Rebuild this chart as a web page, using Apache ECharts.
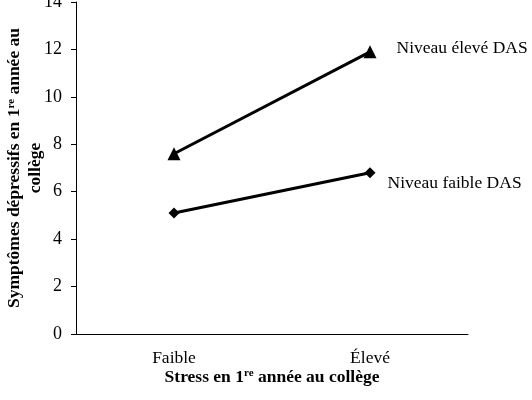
<!DOCTYPE html>
<html>
<head>
<meta charset="utf-8">
<script src="https://cdn.jsdelivr.net/npm/echarts@6/dist/echarts.min.js"></script>
<style>
  html, body { margin: 0; padding: 0; background: #fff; }
  #main { width: 532px; height: 400px; }
</style>
</head>
<body>
<div id="main"></div>
<script>
var categories = ['Faible', 'Élevé'];
var highDas = [7.6, 11.9];
var lowDas = [5.1, 6.8];
var seriesNames = ['Niveau élevé DAS', 'Niveau faible DAS'];

var chartDom = document.getElementById('main');
var myChart = echarts.init(chartDom);
var font = '"Liberation Serif", "Times New Roman", serif';

var supRich = {
  b: { fontFamily: font, fontWeight: 'bold', fontSize: 17.5, color: '#000' },
  s: { fontFamily: font, fontWeight: 'bold', fontSize: 11, color: '#000', padding: [0, 0, 7, 0] }
};

var option = {
  animation: false,
  textStyle: { fontFamily: font, color: '#000' },
  grid: { left: 76, right: 64, top: 2, bottom: 66, outerBoundsMode: 'none', containLabel: false },
  xAxis: {
    type: 'category',
    data: categories,
    boundaryGap: true,
    axisLine: { lineStyle: { color: '#000', width: 1 } },
    axisTick: { length: 4, lineStyle: { color: '#000' } },
    axisLabel: { fontFamily: font, fontSize: 17.5, color: '#000', margin: 15 },
    name: '{b|Stress en 1}{s|re}{b| année au collège}',
    nameLocation: 'middle',
    nameGap: 34,
    nameMoveOverlap: false,
    nameTextStyle: { rich: supRich }
  },
  yAxis: {
    type: 'value',
    min: 0,
    max: 14,
    interval: 2,
    splitLine: { show: false },
    axisLine: { show: true, lineStyle: { color: '#000', width: 1 } },
    axisTick: { show: true, length: 5, lineStyle: { color: '#000' } },
    axisLabel: { fontFamily: font, fontSize: 18, color: '#000', margin: 14 },
    name: '{b|Symptômes dépressifs en 1}{s|re}{b| année au}\n{b|collège}',
    nameLocation: 'middle',
    nameGap: 30,
    nameMoveOverlap: false,
    nameTextStyle: { rich: supRich, lineHeight: 21, align: 'center' }
  },
  series: [
    {
      name: seriesNames[0],
      type: 'line',
      data: highDas,
      symbol: 'triangle',
      symbolSize: 13,
      lineStyle: { color: '#000', width: 3 },
      itemStyle: { color: '#000' },
      label: {
        show: true,
        formatter: function (p) { return p.dataIndex === highDas.length - 1 ? p.seriesName : ''; },
        position: 'right',
        distance: 20,
        offset: [0, -3],
        fontFamily: font,
        fontSize: 17.5,
        color: '#000'
      }
    },
    {
      name: seriesNames[1],
      type: 'line',
      data: lowDas,
      symbol: 'diamond',
      symbolSize: 11,
      lineStyle: { color: '#000', width: 3 },
      itemStyle: { color: '#000' },
      label: {
        show: true,
        formatter: function (p) { return p.dataIndex === lowDas.length - 1 ? p.seriesName : ''; },
        position: 'right',
        distance: 12,
        offset: [0, 11],
        fontFamily: font,
        fontSize: 17.5,
        color: '#000'
      }
    }
  ]
};

option && myChart.setOption(option);
</script>
</body>
</html>
